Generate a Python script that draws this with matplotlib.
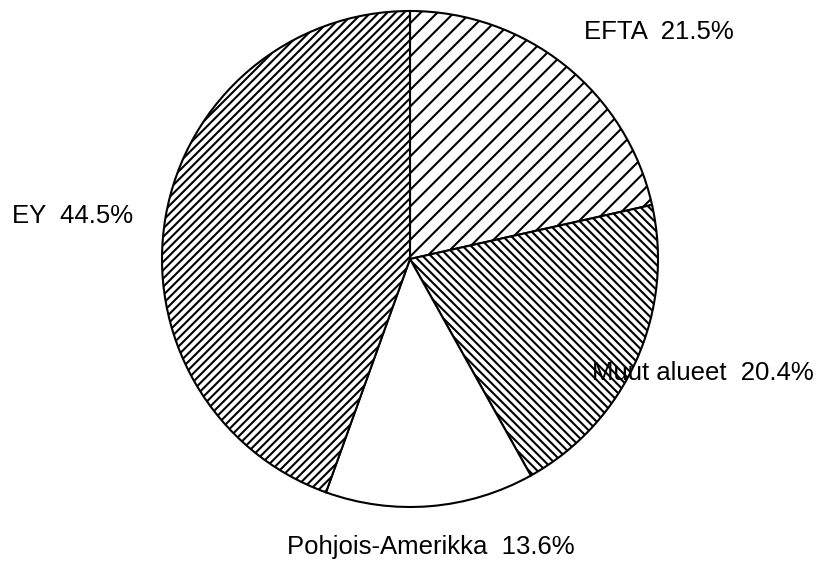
import matplotlib.pyplot as plt

# share of exports by region (%)
regions = ['EFTA', 'Muut alueet', 'Pohjois-Amerikka', 'EY']
shares = [21.5, 20.4, 13.6, 44.5]
hatches = ['//', '\\\\\\\\', '', '////']

plt.rcParams['font.family'] = ['Liberation Sans', 'DejaVu Sans']
plt.rcParams['hatch.linewidth'] = 1.5

fig = plt.figure(figsize=(8.25, 5.61), dpi=100)
ax = fig.add_axes([0.19636, 0.09626, 0.60121, 0.88414])

wedges, _ = ax.pie(shares, startangle=90, counterclock=False, radius=1,
                   colors=['white'] * len(shares),
                   wedgeprops=dict(edgecolor='black', linewidth=1.5))
for w, h in zip(wedges, hatches):
    w.set_hatch(h)

# label centre x / baseline y, in units of the pie radius
label_xy = [(1.004, 0.887), (1.179, -0.488), (0.083, -1.19), (-1.361, 0.145)]
for name, val, (x, y) in zip(regions, shares, label_xy):
    ax.text(x, y, f'{name}  {val:.1f}%', ha='center', va='baseline',
            fontsize=18.5, zorder=5, clip_on=False)

ax.set_xlim(-1, 1)
ax.set_ylim(-1, 1)
ax.axis('off')

fig.savefig('out.png', dpi=100)
